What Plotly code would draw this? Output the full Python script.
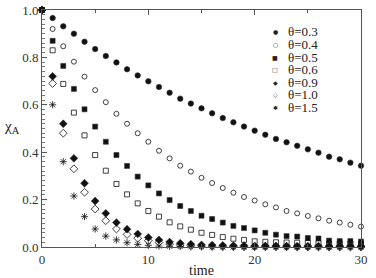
import plotly.graph_objects as go

time = list(range(0, 31))

theta_labels = ["θ=0.3", "θ=0.4", "θ=0.5", "θ=0.6", "θ=0.9", "θ=1.0", "θ=1.5"]

chi_03 = [1.0, 0.966, 0.931, 0.900, 0.866, 0.835, 0.806, 0.779, 0.750, 0.724, 0.699,
          0.675, 0.651, 0.626, 0.605, 0.585, 0.564, 0.544, 0.526, 0.508, 0.491,
          0.474, 0.456, 0.442, 0.427, 0.412, 0.398, 0.381, 0.370, 0.356, 0.343]
chi_04 = [1.0, 0.920, 0.847, 0.782, 0.719, 0.662, 0.611, 0.562, 0.520, 0.480, 0.444,
          0.406, 0.374, 0.343, 0.318, 0.292, 0.270, 0.249, 0.229, 0.211, 0.196,
          0.180, 0.167, 0.152, 0.142, 0.131, 0.121, 0.111, 0.103, 0.094, 0.086]
chi_05 = [1.0, 0.870, 0.764, 0.667, 0.581, 0.508, 0.444, 0.388, 0.342, 0.297, 0.260,
          0.226, 0.198, 0.173, 0.152, 0.132, 0.118, 0.103, 0.089, 0.080, 0.070,
          0.060, 0.052, 0.046, 0.044, 0.038, 0.036, 0.027, 0.025, 0.025, 0.023]
chi_06 = [1.0, 0.830, 0.688, 0.567, 0.471, 0.388, 0.322, 0.266, 0.222, 0.184, 0.152,
          0.128, 0.104, 0.087, 0.073, 0.060, 0.051, 0.042, 0.035, 0.030, 0.024,
          0.022, 0.020, 0.019, 0.018, 0.017, 0.016, 0.015, 0.015, 0.014, 0.014]
chi_09 = [1.0, 0.720, 0.520, 0.374, 0.269, 0.194, 0.142, 0.103, 0.075, 0.055, 0.040,
          0.030, 0.021, 0.016, 0.012, 0.009, 0.008, 0.007, 0.006, 0.006, 0.005,
          0.005, 0.005, 0.004, 0.004, 0.004, 0.004, 0.004, 0.004, 0.004, 0.004]
chi_10 = [1.0, 0.690, 0.480, 0.330, 0.231, 0.160, 0.111, 0.076, 0.053, 0.037, 0.027,
          0.019, 0.013, 0.009, 0.006, 0.004, 0.003, 0.002, 0.002, 0.001, 0.001,
          0.001, 0.001, 0.001, 0.0, 0.0, 0.0, 0.0, 0.0, 0.0, 0.0]
chi_15 = [1.0, 0.600, 0.360, 0.215, 0.128, 0.076, 0.046, 0.030, 0.018, 0.011, 0.007,
          0.004, 0.003, 0.002, 0.001, 0.001, 0.0, 0.0, 0.0, 0.0, 0.0,
          0.0, 0.0, 0.0, 0.0, 0.0, 0.0, 0.0, 0.0, 0.0, 0.0]

series = [chi_03, chi_04, chi_05, chi_06, chi_09, chi_10, chi_15]
symbols = ["circle", "circle-open", "square", "square-open", "diamond", "diamond-open", "asterisk-open"]
sizes = [5.5, 5, 5, 5, 6, 6, 6]
widths = [0.6, 0.8, 0.6, 0.8, 0.6, 0.8, 0.8]
legend_glyphs = ["●", "○", "■", "□", "◆", "◇", "✱"]

fig = go.Figure()
for lab, ys, sym, sz, lw in zip(theta_labels, series, symbols, sizes, widths):
    fig.add_trace(go.Scatter(
        x=time, y=ys, mode="markers", name=lab, cliponaxis=False,
        marker=dict(symbol=sym, size=sz, color="#111",
                    line=dict(color="#333", width=lw)),
    ))

serif = "Liberation Serif, Times New Roman, serif"

# legend drawn as annotations (compact spacing like reference)
row_y0 = 32
row_dy = 12.5
for i, (lab, g) in enumerate(zip(theta_labels, legend_glyphs)):
    ypx = row_y0 + i * row_dy
    yp = 1 - (ypx - 10) / 237
    xm = (275 - 42) / 319
    xt = (286 - 42) / 319
    fig.add_annotation(x=xm, y=yp, xref="paper", yref="paper", text=g,
                       showarrow=False, xanchor="center", yanchor="middle",
                       font=dict(family="DejaVu Sans", size=6, color="#222"))
    fig.add_annotation(x=xt, y=yp, xref="paper", yref="paper", text=lab,
                       showarrow=False, xanchor="left", yanchor="middle",
                       font=dict(family=serif, size=13, color="#222"))

fig.add_annotation(x=-0.095, y=(247 - 127) / 237, xref="paper", yref="paper",
                   text="χ<sub>A</sub>", showarrow=False, xanchor="center", yanchor="middle",
                   font=dict(family=serif, size=15, color="#222"))

fig.update_layout(
    template="none",
    width=376, height=278,
    margin=dict(l=42, r=15, t=10, b=31, autoexpand=False),
    paper_bgcolor="white", plot_bgcolor="white",
    showlegend=False,
    font=dict(family=serif, size=12, color="#333"),
)
fig.update_xaxes(
    automargin=False,
    range=[0, 30], tickvals=[0, 10, 20, 30], ticktext=["0", "10", "20", "30"],
    ticks="inside", ticklen=5, tickcolor="#555", showgrid=False, zeroline=False,
    showline=True, linecolor="#555", linewidth=1, mirror="ticks",
    minor=dict(dtick=5, ticks="inside", ticklen=3, tickcolor="#555", showgrid=False),
    title=dict(text="time", font=dict(family=serif, size=14, color="#222"), standoff=0),
    tickfont=dict(family=serif, size=13, color="#333"),
)
fig.update_yaxes(
    automargin=False,
    range=[0, 1.0], tickvals=[0, 0.2, 0.4, 0.6, 0.8, 1.0],
    ticktext=["0.0", "0.2", "0.4", "0.6", "0.8", "1.0"],
    ticks="inside", ticklen=5, tickcolor="#555", showgrid=False, zeroline=False,
    showline=True, linecolor="#555", linewidth=1, mirror=True,
    minor=dict(dtick=0.02, ticks="inside", ticklen=3, tickcolor="#777", showgrid=False),
    tickfont=dict(family=serif, size=13, color="#333"),
)

fig.write_html("out.html", config={"displayModeBar": False},
               post_script="document.body.style.margin='0';")
